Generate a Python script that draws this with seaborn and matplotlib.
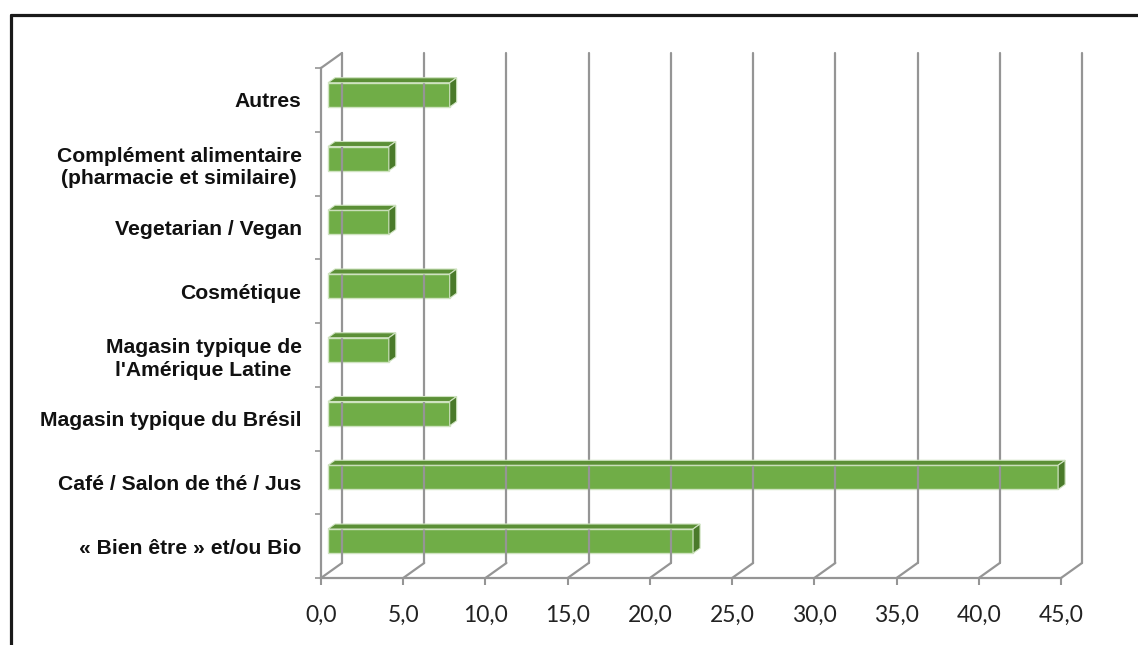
import matplotlib
matplotlib.use("Agg")
import matplotlib.pyplot as plt
import seaborn as sns
import numpy as np
from matplotlib.patches import Polygon
from matplotlib.lines import Line2D
from matplotlib.transforms import ScaledTranslation, IdentityTransform

categories = ["Autres", "Complément alimentaire\n(pharmacie et similaire)", "Vegetarian / Vegan",
              "Cosmétique", "Magasin typique de\nl'Amérique Latine", "Magasin typique du Brésil",
              "Café / Salon de thé / Jus", "« Bien être » et/ou Bio"]
values = [7.4, 3.7, 3.7, 7.4, 3.7, 7.4, 44.4, 22.2]
xticks = [0, 5, 10, 15, 20, 25, 30, 35, 40, 45]
xtick_labels = ["0,0", "5,0", "10,0", "15,0", "20,0", "25,0", "30,0", "35,0", "40,0", "45,0"]

sns.set_theme(style="white")
plt.rcParams['font.family'] = ['Liberation Sans', 'DejaVu Sans']

W, H, DPI = 1138, 645, 100
fig = plt.figure(figsize=(W / DPI, H / DPI), dpi=DPI)
fig.patch.set_facecolor("white")
ax = fig.add_axes([321 / W, 1 - 578 / H, (1061 - 321) / W, (578 - 68) / H])
ax.set_facecolor("none")

green = "#70AD47"
top_c = "#5B8F36"
side_c = "#4A7A2A"
grid_c = "#959595"

sns.barplot(x=values, y=categories, orient="h", color=green, saturation=1,
            width=0.38, ax=ax, zorder=5, edgecolor="#CFE3C0", linewidth=1.0)
ax.set_xlim(0, 45)
ax.set_ylim(7.5, -0.5)
for s in ["top", "right"]:
    ax.spines[s].set_visible(False)
for s in ["left", "bottom"]:
    ax.spines[s].set_color(grid_c)
    ax.spines[s].set_linewidth(1.6)
ax.set_xlabel("")
ax.set_ylabel("")

ax.set_xticks(xticks)
ax.set_xticklabels(xtick_labels, fontfamily="Lato", fontsize=16.5, color="#222222")
ax.tick_params(axis="x", direction="out", length=5, width=1.5, color=grid_c, pad=14, bottom=True)
ax.set_yticks(range(len(categories)))
ax.set_yticklabels(categories, fontsize=15.2, fontweight="bold", color="#111111")
for lab in ax.get_yticklabels():
    lab.set_multialignment("center")
    lab.set_linespacing(1.25)
ax.tick_params(axis="y", length=0, pad=14)
ax.set_yticks(np.arange(-0.5, len(categories), 1), minor=True)
ax.tick_params(axis="y", which="minor", direction="out", length=4.5, width=1.2, color=grid_c, left=True)

fig.canvas.draw()
# 3D geometry (pixel offsets)
D = np.array([21.0, 15.0])
front_off = D / 3
depth = D / 3

to_disp = ax.transData.transform
ident = IdentityTransform()

# back wall gridlines and floor diagonals
y_bot, y_top = 7.5, -0.5
for v in xticks:
    fb = to_disp((v, y_bot))
    ft = to_disp((v, y_top))
    bb = fb + D
    bt = ft + D
    fig.add_artist(Line2D([bb[0], bt[0]], [bb[1], bt[1]], transform=ident, color=grid_c, lw=1.6, zorder=1))
    fig.add_artist(Line2D([fb[0], bb[0]], [fb[1], bb[1]], transform=ident, color=grid_c, lw=1.6, zorder=1))
ft0 = to_disp((0, y_top))
fig.add_artist(Line2D([ft0[0], ft0[0] + D[0]], [ft0[1], ft0[1] + D[1]], transform=ident, color=grid_c, lw=1.6, zorder=1))

# bars: shift front face and add top and side faces
shift = ScaledTranslation(front_off[0] / DPI, front_off[1] / DPI, fig.dpi_scale_trans)
for p in list(ax.patches):
    x0, y0, w, h = p.get_x(), p.get_y(), p.get_width(), p.get_height()
    c = np.array([to_disp((x0, y0)), to_disp((x0 + w, y0)), to_disp((x0 + w, y0 + h)), to_disp((x0, y0 + h))])
    c = c + front_off
    xl, xr = c[:, 0].min(), c[:, 0].max()
    yb, yt = c[:, 1].min(), c[:, 1].max()
    p.set_transform(ax.transData + shift)
    p.set_zorder(6)
    top = Polygon([[xl, yt], [xr, yt], [xr + depth[0], yt + depth[1]], [xl + depth[0], yt + depth[1]]],
                  closed=True, transform=ident, facecolor=top_c, edgecolor="#CFE3C0", lw=0.8, zorder=6)
    side = Polygon([[xr, yb], [xr, yt], [xr + depth[0], yt + depth[1]], [xr + depth[0], yb + depth[1]]],
                   closed=True, transform=ident, facecolor=side_c, edgecolor="#CFE3C0", lw=0.8, zorder=6)
    fig.add_artist(top)
    fig.add_artist(side)

# outer frame (top and left)
fig.add_artist(Line2D([10.5 / W, 1.0], [1 - 15 / H, 1 - 15 / H], transform=fig.transFigure, color="#1A1A1A", lw=2.3))
fig.add_artist(Line2D([10.5 / W, 10.5 / W], [0.0, 1 - 15 / H], transform=fig.transFigure, color="#1A1A1A", lw=2.3))

fig.savefig("out.png", dpi=DPI)
